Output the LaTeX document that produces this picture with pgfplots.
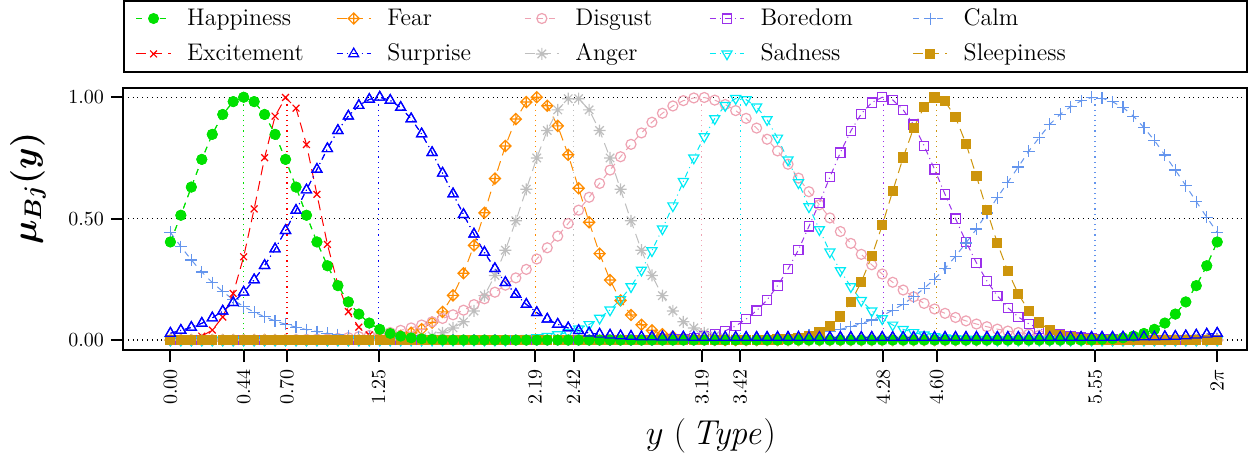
\documentclass[border=0pt]{standalone}
\usepackage{amsmath}
\usepackage{pgfplots}
\usepackage{pgfplotstable}
\pgfplotsset{compat=1.18}

\definecolor{cHap}{RGB}{0,225,0}
\definecolor{cExc}{RGB}{255,0,0}
\definecolor{cFear}{RGB}{255,140,0}
\definecolor{cSur}{RGB}{0,0,255}
\definecolor{cDis}{RGB}{238,162,178}
\definecolor{cAng}{RGB}{190,190,190}
\definecolor{cBor}{RGB}{155,48,235}
\definecolor{cSad}{RGB}{0,235,245}
\definecolor{cCalm}{RGB}{100,149,237}
\definecolor{cSlp}{RGB}{205,149,12}

% diamond with a plus inside
\pgfdeclareplotmark{dplus}{%
  \pgfpathmoveto{\pgfqpoint{0pt}{\pgfplotmarksize}}%
  \pgfpathlineto{\pgfqpoint{\pgfplotmarksize}{0pt}}%
  \pgfpathlineto{\pgfqpoint{0pt}{-\pgfplotmarksize}}%
  \pgfpathlineto{\pgfqpoint{-\pgfplotmarksize}{0pt}}%
  \pgfpathclose%
  \pgfpathmoveto{\pgfqpoint{0pt}{\pgfplotmarksize}}%
  \pgfpathlineto{\pgfqpoint{0pt}{-\pgfplotmarksize}}%
  \pgfpathmoveto{\pgfqpoint{\pgfplotmarksize}{0pt}}%
  \pgfpathlineto{\pgfqpoint{-\pgfplotmarksize}{0pt}}%
  \pgfusepathqstroke%
}
% asterisk made of + and x
\pgfdeclareplotmark{xplus}{%
  \pgfpathmoveto{\pgfqpoint{0pt}{\pgfplotmarksize}}%
  \pgfpathlineto{\pgfqpoint{0pt}{-\pgfplotmarksize}}%
  \pgfpathmoveto{\pgfqpoint{\pgfplotmarksize}{0pt}}%
  \pgfpathlineto{\pgfqpoint{-\pgfplotmarksize}{0pt}}%
  \pgfpathmoveto{\pgfqpoint{0.707\pgfplotmarksize}{0.707\pgfplotmarksize}}%
  \pgfpathlineto{\pgfqpoint{-0.707\pgfplotmarksize}{-0.707\pgfplotmarksize}}%
  \pgfpathmoveto{\pgfqpoint{-0.707\pgfplotmarksize}{0.707\pgfplotmarksize}}%
  \pgfpathlineto{\pgfqpoint{0.707\pgfplotmarksize}{-0.707\pgfplotmarksize}}%
  \pgfusepathqstroke%
}

\pgfplotstableread{
px     H     E     F     S     D     A     Bo    Sa    C     Sl
0.0000 0.404 0     0     0.028 0     0     0     0     0.443 0
0.0628 0.514 0.002 0     0.040 0     0     0     0     0.385 0
0.1257 0.630 0.005 0     0.052 0     0     0     0     0.330 0
0.1885 0.744 0.016 0     0.069 0     0     0     0     0.280 0
0.2513 0.847 0.041 0     0.091 0     0     0     0     0.237 0
0.3142 0.929 0.095 0     0.119 0     0     0     0     0.200 0
0.3770 0.982 0.192 0     0.154 0     0     0     0     0.166 0
0.4398 1.000 0.343 0     0.197 0     0     0     0     0.138 0
0.5027 0.982 0.540 0     0.248 0     0     0     0     0.115 0
0.5655 0.929 0.751 0     0.307 0     0     0     0     0.096 0
0.6283 0.847 0.922 0     0.375 0     0     0     0     0.079 0
0.6912 0.744 0.999 0     0.451 0     0     0     0     0.065 0
0.7540 0.630 0.955 0     0.534 0.002 0     0     0     0.053 0
0.8168 0.514 0.805 0     0.618 0.003 0     0     0     0.043 0
0.8796 0.404 0.600 0     0.703 0.004 0     0     0     0.035 0
0.9425 0.306 0.394 0     0.788 0.005 0     0     0     0.028 0
1.0053 0.224 0.229 0     0.863 0.007 0     0     0     0.022 0
1.0681 0.157 0.117 0     0.922 0.010 0     0     0     0.018 0
1.1310 0.107 0.053 0     0.966 0.014 0     0     0     0.014 0
1.1938 0.070 0.021 0.002 0.991 0.019 0     0     0     0.011 0
1.2566 0.044 0.007 0.005 1.000 0.025 0     0     0     0.008 0
1.3195 0.027 0.002 0.009 0.987 0.031 0     0     0     0.006 0
1.3823 0.016 0     0.017 0.958 0.040 0.002 0     0     0.005 0
1.4451 0.009 0     0.030 0.911 0.050 0.005 0     0     0.004 0
1.5080 0.005 0     0.045 0.849 0.062 0.009 0     0     0.003 0
1.5708 0.003 0     0.072 0.772 0.075 0.017 0     0     0.002 0
1.6336 0.001 0     0.116 0.687 0.089 0.030 0     0     0.001 0
1.6965 0     0     0.184 0.602 0.104 0.050 0     0     0     0
1.7593 0     0     0.275 0.517 0.123 0.075 0     0     0     0
1.8221 0     0     0.390 0.436 0.146 0.120 0     0     0     0
1.8850 0     0     0.524 0.361 0.170 0.183 0     0     0     0
1.9478 0     0     0.665 0.294 0.197 0.266 0     0     0     0
2.0106 0     0     0.799 0.237 0.226 0.370 0     0     0     0
2.0735 0     0     0.910 0.188 0.256 0.491 0     0.005 0     0
2.1363 0     0     0.980 0.147 0.291 0.621 0     0.007 0     0
2.1991 0     0     1.000 0.113 0.334 0.750 0     0.010 0     0
2.2619 0     0     0.965 0.086 0.380 0.863 0     0.015 0     0
2.3248 0     0     0.882 0.065 0.428 0.948 0     0.022 0     0
2.3876 0     0     0.763 0.050 0.480 0.994 0     0.032 0     0
2.4504 0     0     0.625 0.039 0.535 0.994 0     0.046 0     0
2.5133 0     0     0.485 0.029 0.588 0.948 0     0.064 0     0
2.5761 0     0     0.356 0.024 0.645 0.863 0     0.090 0     0
2.6389 0     0     0.247 0.020 0.700 0.750 0     0.124 0     0
2.7018 0     0     0.163 0.017 0.755 0.621 0     0.167 0     0
2.7646 0     0     0.103 0.015 0.806 0.491 0     0.220 0     0
2.8274 0     0     0.063 0.013 0.853 0.370 0     0.288 0     0
2.8903 0     0     0.040 0.013 0.897 0.266 0     0.368 0     0
2.9531 0     0     0.024 0.012 0.934 0.183 0     0.458 0     0
3.0159 0     0     0.014 0.012 0.964 0.120 0.003 0.553 0     0
3.0788 0     0     0.008 0.012 0.986 0.075 0.005 0.653 0     0
3.1416 0     0     0.005 0.011 0.997 0.050 0.008 0.750 0     0
3.2044 0     0     0.003 0.011 0.999 0.030 0.014 0.838 0     0
3.2673 0     0     0.001 0.011 0.988 0.017 0.025 0.912 0.002 0
3.3301 0     0     0     0.011 0.970 0.009 0.038 0.966 0.003 0
3.3929 0     0     0     0.011 0.945 0.005 0.058 0.995 0.004 0
3.4558 0     0     0     0.011 0.913 0.002 0.086 0.990 0.005 0
3.5186 0     0     0     0.011 0.873 0     0.121 0.960 0.006 0
3.5814 0     0     0     0.011 0.827 0     0.165 0.908 0.008 0
3.6442 0     0     0     0.011 0.779 0     0.224 0.832 0.010 0.002
3.7071 0     0     0     0.011 0.724 0     0.292 0.742 0.013 0.004
3.7699 0     0     0     0.011 0.667 0     0.372 0.648 0.017 0.008
3.8327 0     0     0     0.011 0.611 0     0.468 0.549 0.022 0.017
3.8956 0     0     0     0.011 0.557 0     0.565 0.455 0.028 0.031
3.9584 0     0     0     0.011 0.503 0     0.671 0.363 0.035 0.057
4.0212 0     0     0     0.011 0.447 0     0.772 0.286 0.044 0.097
4.0841 0     0     0     0.011 0.398 0     0.861 0.220 0.055 0.156
4.1469 0     0     0     0.011 0.353 0     0.932 0.163 0.068 0.239
4.2097 0     0     0     0.011 0.310 0     0.978 0.120 0.083 0.345
4.2726 0     0     0     0.011 0.272 0     1.000 0.088 0.100 0.473
4.3354 0     0     0     0.011 0.238 0     0.989 0.062 0.123 0.613
4.3982 0     0     0     0.011 0.206 0     0.948 0.044 0.148 0.752
4.4611 0     0     0     0.011 0.178 0     0.887 0.031 0.178 0.873
4.5239 0     0     0     0.011 0.151 0     0.800 0.021 0.213 0.960
4.5867 0     0     0     0.011 0.128 0     0.703 0.014 0.251 0.999
4.6496 0     0     0     0.011 0.110 0     0.600 0.009 0.295 0.983
4.7124 0     0     0     0.011 0.093 0     0.500 0.006 0.345 0.917
4.7752 0     0     0     0.011 0.079 0     0.405 0.004 0.400 0.809
4.8381 0     0     0     0.011 0.066 0     0.318 0.003 0.457 0.675
4.9009 0     0     0     0.011 0.055 0     0.243 0.002 0.523 0.534
4.9637 0     0     0     0.011 0.045 0     0.182 0     0.587 0.399
5.0265 0     0     0     0.011 0.037 0     0.133 0     0.650 0.283
5.0894 0     0     0     0.011 0.031 0     0.095 0     0.713 0.190
5.1522 0     0     0     0.011 0.025 0     0.067 0     0.778 0.120
5.2150 0     0     0     0.011 0.020 0     0.047 0     0.834 0.072
5.2779 0     0     0     0.011 0.015 0     0.033 0     0.888 0.041
5.3407 0     0     0     0.011 0.012 0     0.023 0     0.930 0.022
5.4035 0     0     0     0.011 0.009 0     0.015 0     0.961 0.011
5.4664 0     0     0     0.011 0.007 0     0.010 0     0.985 0.005
5.5292 0.001 0     0     0.011 0.005 0     0.006 0     0.999 0.002
5.5920 0.003 0     0     0.011 0.004 0     0.004 0     0.996 0
5.6549 0.005 0     0     0.011 0.003 0     0.002 0     0.981 0
5.7177 0.009 0     0     0.012 0.002 0     0     0     0.958 0
5.7805 0.016 0     0     0.012 0     0     0     0     0.922 0
5.8434 0.027 0     0     0.013 0     0     0     0     0.875 0
5.9062 0.044 0     0     0.013 0     0     0     0     0.822 0
5.9690 0.070 0     0     0.014 0     0     0     0     0.762 0
6.0319 0.107 0     0     0.015 0     0     0     0     0.700 0
6.0947 0.157 0     0     0.017 0     0     0     0     0.636 0
6.1575 0.224 0     0     0.020 0     0     0     0     0.570 0
6.2204 0.306 0     0     0.024 0     0     0     0     0.506 0
6.2832 0.404 0     0     0.028 0     0     0     0     0.443 0
}\memb

\begin{document}
\begin{tikzpicture}
\begin{axis}[
  scale only axis,
  width=562pt, height=131pt,
  xmin=-0.2845, xmax=6.462,
  ymin=-0.041, ymax=1.038,
  axis line style={line width=1pt},
  tick align=outside,
  xtick pos=left, ytick pos=left,
  major tick length=6pt,
  tick style={line width=1pt, black},
  xtick={0,0.44,0.70,1.25,2.19,2.42,3.19,3.42,4.28,4.60,5.55,6.2832},
  xticklabels={$0.00$,$0.44$,$0.70$,$1.25$,$2.19$,$2.42$,$3.19$,$3.42$,$4.28$,$4.60$,$5.55$,$2\pi$},
  xticklabel style={rotate=90, anchor=east},
  ytick={0,0.5,1},
  yticklabels={$0.00$,$0.50$,$1.00$},
  ymajorgrids,
  major grid style={dotted, black, line width=0.6pt},
  xlabel={$y$ $(\,\mathit{Type})$},
  xlabel style={font=\LARGE, at={(axis description cs:0.523,-0.328)}, anchor=center},
  ylabel={$\boldsymbol{\mu_{Bj}(y)}$},
  ylabel style={font=\fontsize{16.5}{20}\selectfont, at={(axis description cs:-0.0845,0.615)}, anchor=center},
  legend columns=5,
  legend cell align=left,
  legend style={at={(0,1.0573)}, anchor=south west, font=\large, line width=1pt,
    inner xsep=6pt, inner ysep=2pt, row sep=3.7pt,
    /tikz/every odd column/.append style={column sep=6pt}},
]
\draw[cHap, dotted, line width=0.6pt] (axis cs:0.44,-0.041) -- (axis cs:0.44,1);
\draw[cExc, dotted, line width=0.6pt] (axis cs:0.70,-0.041) -- (axis cs:0.70,1);
\draw[cSur, dotted, line width=0.6pt] (axis cs:1.25,-0.041) -- (axis cs:1.25,1);
\draw[cFear, dotted, line width=0.6pt] (axis cs:2.19,-0.041) -- (axis cs:2.19,1);
\draw[cAng, dotted, line width=0.6pt] (axis cs:2.42,-0.041) -- (axis cs:2.42,1);
\draw[cDis, dotted, line width=0.6pt] (axis cs:3.19,-0.041) -- (axis cs:3.19,1);
\draw[cSad, dotted, line width=0.6pt] (axis cs:3.42,-0.041) -- (axis cs:3.42,1);
\draw[cBor, dotted, line width=0.6pt] (axis cs:4.28,-0.041) -- (axis cs:4.28,1);
\draw[cSlp, dotted, line width=0.6pt] (axis cs:4.60,-0.041) -- (axis cs:4.60,1);
\draw[cCalm, dotted, line width=0.6pt] (axis cs:5.55,-0.041) -- (axis cs:5.55,1);

\addplot[color=cHap, line width=0.5pt, dashed, mark=*, mark size=2.5pt, mark options={solid, fill=cHap}] table[x=px, y=H] {\memb};
\addlegendentry{\makebox[72.5pt][l]{Happiness}}
\addplot[color=cFear, line width=0.5pt, dash pattern=on 5pt off 3pt, mark=dplus, mark size=2.8pt, mark options={solid, line width=0.6pt}] table[x=px, y=F] {\memb};
\addlegendentry{\makebox[66.5pt][l]{Fear}}
\addplot[color=cDis, line width=0.5pt, dashed, mark=o, mark size=2.5pt, mark options={solid, line width=0.6pt}] table[x=px, y=D] {\memb};
\addlegendentry{\makebox[65pt][l]{Disgust}}
\addplot[color=cBor, line width=0.5pt, dashdotted, mark=square, mark size=2.3pt, mark options={solid, line width=0.6pt}] table[x=px, y=Bo] {\memb};
\addlegendentry{\makebox[74pt][l]{Boredom}}
\addplot[color=cCalm, line width=0.5pt, dashed, mark=+, mark size=3pt, mark options={solid, line width=0.6pt}] table[x=px, y=C] {\memb};
\addlegendentry{\makebox[133.5pt][l]{Calm}}
\addplot[color=cExc, line width=0.5pt, dash pattern=on 5pt off 3pt, mark=x, mark size=2.4pt, mark options={solid, line width=0.6pt}] table[x=px, y=E] {\memb};
\addlegendentry{Excitement}
\addplot[color=cSur, line width=0.5pt, dashdotted, mark=triangle, mark size=2.9pt, mark options={solid, line width=0.6pt}] table[x=px, y=S] {\memb};
\addlegendentry{Surprise}
\addplot[color=cAng, line width=0.5pt, dash pattern=on 5pt off 3pt, mark=xplus, mark size=3pt, mark options={solid, line width=0.6pt}] table[x=px, y=A] {\memb};
\addlegendentry{Anger}
\addplot[color=cSad, line width=0.5pt, dashdotted, mark=triangle, mark size=2.9pt, mark options={solid, rotate=180, line width=0.6pt}] table[x=px, y=Sa] {\memb};
\addlegendentry{Sadness}
\addplot[color=cSlp, line width=0.5pt, dash pattern=on 5pt off 3pt, mark=square*, mark size=2.3pt, mark options={solid, fill=cSlp}] table[x=px, y=Sl] {\memb};
\addlegendentry{Sleepiness}
% redraw Happiness and Surprise on top, as in the original stacking
\addplot[forget plot, color=cHap, line width=0.5pt, dashed, mark=*, mark size=2.5pt, mark options={solid, fill=cHap}] table[x=px, y=H] {\memb};
\addplot[forget plot, color=cSur, line width=0.5pt, dashdotted, mark=triangle, mark size=2.9pt, mark options={solid, line width=0.6pt}] table[x=px, y=S] {\memb};
\end{axis}
\pgfresetboundingbox
\path ([shift={(-61.5pt,-54pt)}]current axis.south west) rectangle ([shift={(1pt,44pt)}]current axis.north east);
\end{tikzpicture}
\end{document}
